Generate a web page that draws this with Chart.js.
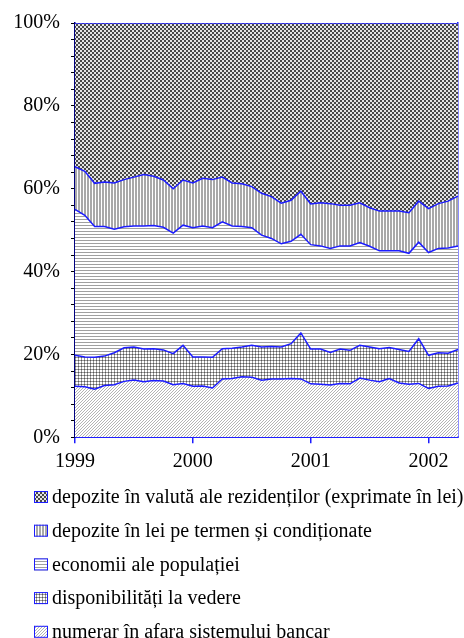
<!DOCTYPE html>
<html>
<head>
<meta charset="utf-8">
<script src="https://cdn.jsdelivr.net/npm/chart.js@4.4.1/dist/chart.umd.min.js"></script>
<style>
  html, body { margin: 0; padding: 0; background: #fff; }
</style>
</head>
<body>
<canvas id="myChart" width="464" height="638"></canvas>
<script>
const categories = [
  '1999-01','1999-02','1999-03','1999-04','1999-05','1999-06','1999-07','1999-08','1999-09','1999-10','1999-11','1999-12',
  '2000-01','2000-02','2000-03','2000-04','2000-05','2000-06','2000-07','2000-08','2000-09','2000-10','2000-11','2000-12',
  '2001-01','2001-02','2001-03','2001-04','2001-05','2001-06','2001-07','2001-08','2001-09','2001-10','2001-11','2001-12',
  '2002-01','2002-02','2002-03','2002-04'
];

// shares in %, bottom to top
const numerar = [12.3,12.2,11.6,12.5,12.7,13.5,13.8,13.4,13.7,13.6,12.7,13.0,12.3,12.4,11.9,14.1,14.2,14.6,14.5,13.8,
  14.1,14.1,14.2,14.1,12.9,12.8,12.6,13.0,12.9,14.3,13.8,13.4,14.2,13.1,12.8,13.0,11.8,12.3,12.4,13.1];
const disponibilitati = [7.5,7.2,7.7,7.1,7.7,8.1,8.0,7.9,7.7,7.5,7.5,9.2,7.1,7.0,7.4,7.3,7.3,7.2,7.7,8.0,
  7.8,7.7,8.4,11.1,8.4,8.5,7.9,8.3,8.1,7.9,8.0,8.0,7.5,8.1,7.9,10.8,8.0,8.1,7.9,8.1];
const economii = [35.2,34.2,31.6,31.3,29.8,29.2,29.2,29.7,29.7,29.6,29.1,29.0,31.2,31.6,31.3,30.6,29.5,29.1,28.4,27.0,
  26.1,24.9,24.7,23.8,25.2,24.9,25.1,24.9,25.2,24.8,24.3,23.6,23.3,23.8,23.7,23.3,24.8,25.2,25.4,25.0];
const depoziteLei = [10.3,10.6,10.4,10.7,11.2,11.4,11.8,12.4,11.9,11.4,10.7,10.9,10.8,11.5,11.6,10.8,10.4,10.3,9.9,10.1,
  10.1,9.8,9.9,10.4,9.8,10.4,10.8,9.8,9.8,9.6,9.3,9.6,9.6,9.6,9.8,9.9,10.6,10.8,11.3,12.0];
const valuta = [34.7,35.8,38.7,38.4,38.6,37.8,37.2,36.6,37.0,37.9,40.0,37.9,38.6,37.5,37.8,37.2,38.6,38.8,39.5,41.1,
  41.9,43.5,42.8,40.6,43.7,43.4,43.6,44.0,44.0,43.4,44.6,45.4,45.4,45.4,45.8,43.0,44.8,43.6,43.0,41.8];

const seriesNames = [
  'numerar în afara sistemului bancar',
  'disponibilități la vedere',
  'economii ale populației',
  'depozite în lei pe termen și condiționate',
  'depozite în valută ale rezidenților (exprimate în lei)'
];

const BLUE = '#1c1cff';
const FONT = '"Liberation Serif", "Times New Roman", serif';

// small pixel tiles used as fills
function makePattern(size, draw) {
  const c = document.createElement('canvas');
  c.width = size; c.height = size;
  const g = c.getContext('2d');
  g.fillStyle = '#fff';
  g.fillRect(0, 0, size, size);
  draw(g);
  return document.createElement('canvas').getContext('2d').createPattern(c, 'repeat');
}

const patDiag = makePattern(3, g => {
  g.fillStyle = '#b4b4b4';
  for (let i = 0; i < 3; i++) g.fillRect(i, 2 - i, 1, 1);
});
const patGrid = makePattern(3, g => {
  g.fillStyle = '#9a9a9a';
  g.fillRect(0, 0, 3, 1);
  g.fillRect(0, 0, 1, 3);
  g.fillStyle = '#555';
  g.fillRect(0, 0, 1, 1);
});
const patHoriz = makePattern(3, g => {
  g.fillStyle = '#a0a0a0';
  g.fillRect(0, 0, 3, 1);
});
const patVert = makePattern(3, g => {
  g.fillStyle = '#a8a8a8';
  g.fillRect(0, 0, 2, 3);
});
const patCheck = makePattern(4, g => {
  g.fillStyle = '#e4e4e4';
  g.fillRect(0, 0, 4, 4);
  g.fillStyle = '#484848';
  g.fillRect(0, 0, 2, 2);
  g.fillRect(2, 2, 2, 2);
});

const seriesData = [numerar, disponibilitati, economii, depoziteLei, valuta];
const seriesFills = [patDiag, patGrid, patHoriz, patVert, patCheck];

const isYearStart = i => categories[i] && categories[i].endsWith('-01');

// legend drawn as a list under the chart, top series first
const listLegend = {
  id: 'listLegend',
  afterDraw(chart) {
    const ctx = chart.ctx;
    const sets = chart.data.datasets.slice().reverse();
    ctx.save();
    ctx.font = '20px ' + FONT;
    ctx.textBaseline = 'middle';
    sets.forEach((ds, k) => {
      const y = 497 + k * 33.7;
      ctx.fillStyle = ds.backgroundColor;
      ctx.fillRect(34, y - 6, 14, 12);
      ctx.strokeStyle = BLUE;
      ctx.lineWidth = 1;
      ctx.strokeRect(34.5, y - 5.5, 13, 11);
      ctx.fillStyle = '#000';
      ctx.fillText(ds.label, 52, y + 1);
    });
    ctx.restore();
  }
};

Chart.defaults.font.family = FONT;
Chart.defaults.font.size = 20;
Chart.defaults.color = '#000';

new Chart(document.getElementById('myChart'), {
  type: 'line',
  data: {
    labels: categories,
    datasets: seriesData.map((d, i) => ({
      label: seriesNames[i],
      data: d,
      backgroundColor: seriesFills[i],
      borderColor: BLUE,
      borderWidth: 1.5,
      pointRadius: 0,
      tension: 0,
      fill: i === 0 ? 'origin' : '-1'
    }))
  },
  options: {
    responsive: false,
    animation: false,
    layout: { padding: { top: 21.5, right: 6, left: 0, bottom: 0 } },
    plugins: {
      legend: { display: false },
      tooltip: { enabled: false }
    },
    scales: {
      x: {
        offset: false,
        ticks: {
          autoSkip: false,
          maxRotation: 0,
          padding: 6,
          callback: (v, i) => isYearStart(i) ? categories[i].slice(0, 4) : ''
        },
        grid: {
          drawOnChartArea: false,
          tickLength: 6,
          lineWidth: 1.5,
          tickColor: c => isYearStart(c.index) ? BLUE : 'rgba(0,0,0,0)'
        },
        border: { color: BLUE, width: 2 },
        afterFit: s => { s.height = 200.7; }
      },
      y: {
        stacked: true,
        min: 0,
        max: 100,
        ticks: {
          stepSize: 4,
          autoSkip: false,
          padding: 11,
          callback: v => v % 20 === 0 ? v + '%' : ''
        },
        grid: { drawOnChartArea: false, tickLength: 4, tickColor: '#000' },
        border: { color: '#000080', width: 1.5 },
        afterFit: s => { s.width = 75; }
      },
      yRight: {
        position: 'right',
        min: 0,
        max: 100,
        ticks: { display: false },
        grid: { display: false },
        border: { color: BLUE, width: 1.5 },
        afterFit: s => { s.width = 0; }
      }
    }
  },
  plugins: [listLegend]
});
</script>
</body>
</html>
